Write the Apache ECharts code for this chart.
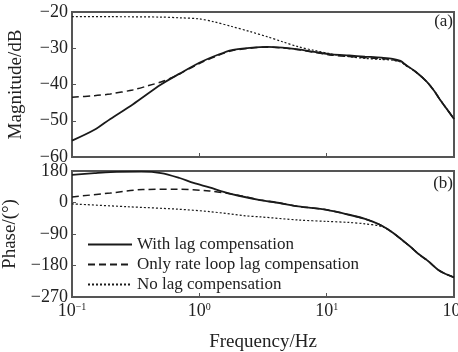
<!DOCTYPE html>
<html><head><meta charset="utf-8">
<script src="https://cdn.jsdelivr.net/npm/echarts@6/dist/echarts.min.js"></script>
<style>html,body{margin:0;padding:0;background:#fff}#c{width:458px;height:352px}</style>
</head><body><div id="c"></div>
<script>
// Frequency (Hz) and values
const magWithFreq = [0.1,0.15,0.2,0.3,0.5,0.7,1,1.4,1.8,2.5,3.4,4.5,6,8,11,15,20,27,33,38,42,50,61,70,77,88,100];
const magWith     = [-55.5,-52.5,-49.5,-45.5,-40,-37,-34,-31.8,-30.5,-29.9,-29.6,-29.8,-30.3,-31,-31.7,-32,-32.3,-32.6,-32.9,-33.5,-34.6,-36.5,-39.2,-41.8,-44,-46.8,-49.5];
const magRateFreq = [0.1,0.15,0.2,0.3,0.4,0.5,0.6,0.7,1,1.4,1.8,2.5,3.4,4.5,6,8,11,15,20,27,33,38,42,50,61,70,77,88,100];
const magRate     = [-43.5,-43.1,-42.6,-41.5,-40.3,-39.3,-38.2,-37.1,-34.2,-32,-30.7,-30,-29.7,-29.9,-30.4,-31.1,-31.9,-32.3,-32.6,-32.9,-33.2,-33.7,-34.7,-36.5,-39.2,-41.8,-44,-46.8,-49.5];
const magNoFreq   = [0.1,0.2,0.5,0.7,1,1.3,1.8,2.5,3.4,4.5,6,8,11,15,20,27,33,38,42,50,61,70,77,88,100];
const magNo       = [-21.3,-21.3,-21.4,-21.6,-21.9,-22.7,-24,-25.4,-26.8,-28.2,-29.6,-30.6,-31.6,-32.3,-32.8,-33.1,-33.3,-33.8,-34.8,-36.5,-39.2,-41.8,-44,-46.8,-49.5];

// Phase in the picture's axis positions (top edge = 90 step above 0)
const phWithFreq = [0.1,0.15,0.2,0.35,0.5,0.7,0.9,1.2,1.6,2,3,4,6,10,15,20,26,30,35,40,46,53,62,77,100];
const phWith     = [79,84,87,88,84,70,56,43,29,20,7,0,-11,-21,-35,-47,-63,-76,-93,-110,-128,-148,-166,-195,-214];
const phRateFreq = [0.1,0.2,0.36,0.66,1.2,2,3,4,6,10,15,20,26,30,35,40,46,53,62,77,100];
const phRate     = [16,27,37,38,33,21,7,0,-11,-21,-35,-47,-63,-76,-93,-110,-128,-148,-166,-195,-214];
const phNoFreq   = [0.1,0.27,0.67,1.2,2.3,3,6,10,15,20,26,30,35,40,46,53,62,77,100];
const phNo       = [-4,-12,-19,-26,-38,-41,-50,-54,-57,-61,-67,-76,-93,-110,-128,-148,-166,-195,-214];

const yMagTicks = [-60,-50,-40,-30,-20];
const phaseLabels = {'90':'180','0':'0','-90':'−90','-180':'−180','-270':'−270'};
const legendNames = ['With lag compensation','Only rate loop lag compensation','No lag compensation'];

const FONT = 'Liberation Serif';
const zip = (a,b) => a.map((v,i)=>[v,b[i]]);
const chart = echarts.init(document.getElementById('c'), null, {renderer:'canvas'});

const xLab = {
  fontFamily: FONT, color:'#222', margin: 5,
  formatter: v => { const e = Math.round(Math.log10(v)); return '{b|10}{s|' + (e<0?'−'+(-e):e) + '}'; },
  rich: { b:{fontFamily:FONT,fontSize:18,color:'#222'}, s:{fontFamily:FONT,fontSize:10,color:'#222',verticalAlign:'top',padding:[0,0,9,0]} }
};
const axisLineStyle = {show:true, onZero:false, lineStyle:{color:'#555', width:2}};
const tickStyle = {show:true, inside:true, length:4, lineStyle:{color:'#555'}};
const lineSeries = (name, data, xi, type, width) => ({
  name, type:'line', xAxisIndex:xi, yAxisIndex:xi, data, showSymbol:false, symbol:'none', smooth:0.3,
  lineStyle:{color:'#1a1a1a', width, type}, itemStyle:{color:'#1a1a1a'}, animation:false, z:3
});

chart.setOption({
  animation:false,
  grid:[
    {left:72, right:4, top:12, height:145, show:true, borderColor:'#555', borderWidth:2, containLabel:false, outerBoundsMode:'none'},
    {left:72, right:4, top:171, height:126, show:true, borderColor:'#555', borderWidth:2, containLabel:false, outerBoundsMode:'none'}
  ],
  xAxis:[
    {gridIndex:0, type:'log', logBase:10, min:0.1, max:100, axisLine:axisLineStyle,
     axisTick:tickStyle, minorTick:{show:false}, axisLabel:{show:false}, splitLine:{show:false}},
    {gridIndex:1, type:'log', logBase:10, min:0.1, max:100, axisLine:axisLineStyle,
     axisTick:tickStyle, minorTick:{show:false}, axisLabel:xLab, splitLine:{show:false},
     name:'Frequency/Hz', nameLocation:'middle', nameGap:36,
     nameTextStyle:{fontFamily:FONT, fontSize:19, color:'#222'}}
  ],
  yAxis:[
    {gridIndex:0, type:'value', min:-60, max:-20, interval:10, axisLine:axisLineStyle,
     axisTick:tickStyle, splitLine:{show:false},
     axisLabel:{fontFamily:FONT, fontSize:18, color:'#222', margin:4,
       formatter: v => yMagTicks.includes(v) ? String(v).replace('-','−') : ''},
     name:'Magnitude/dB', nameLocation:'middle', nameGap:46,
     nameTextStyle:{fontFamily:FONT, fontSize:19, color:'#222'}},
    {gridIndex:1, type:'value', min:-270, max:90, interval:90, axisLine:axisLineStyle,
     axisTick:tickStyle, splitLine:{show:false},
     axisLabel:{fontFamily:FONT, fontSize:18, color:'#222', margin:4, formatter: v => phaseLabels[String(v)] || ''},
     name:'Phase/(°)', nameLocation:'middle', nameGap:46,
     nameTextStyle:{fontFamily:FONT, fontSize:19, color:'#222'}}
  ],
  legend:{
    left:82, top:231, orient:'vertical', itemGap:3, itemWidth:44, itemHeight:16,
    data:legendNames, itemStyle:{opacity:0},
    textStyle:{fontFamily:FONT, fontSize:17, color:'#222'}
  },
  graphic:[
    {type:'text', right:5, top:13, style:{text:'(a)', font:'17px "Liberation Serif"', fill:'#222'}},
    {type:'text', right:5, top:175, style:{text:'(b)', font:'17px "Liberation Serif"', fill:'#222'}}
  ],
  series:[
    lineSeries(legendNames[0], zip(magWithFreq, magWith), 0, 'solid', 1.8),
    lineSeries(legendNames[1], zip(magRateFreq, magRate), 0, [7,4], 1.5),
    lineSeries(legendNames[2], zip(magNoFreq, magNo), 0, [2,2], 1.2),
    lineSeries(legendNames[0], zip(phWithFreq, phWith), 1, 'solid', 1.8),
    lineSeries(legendNames[1], zip(phRateFreq, phRate), 1, [7,4], 1.5),
    lineSeries(legendNames[2], zip(phNoFreq, phNo), 1, [2,2], 1.2)
  ]
});
</script></body></html>
